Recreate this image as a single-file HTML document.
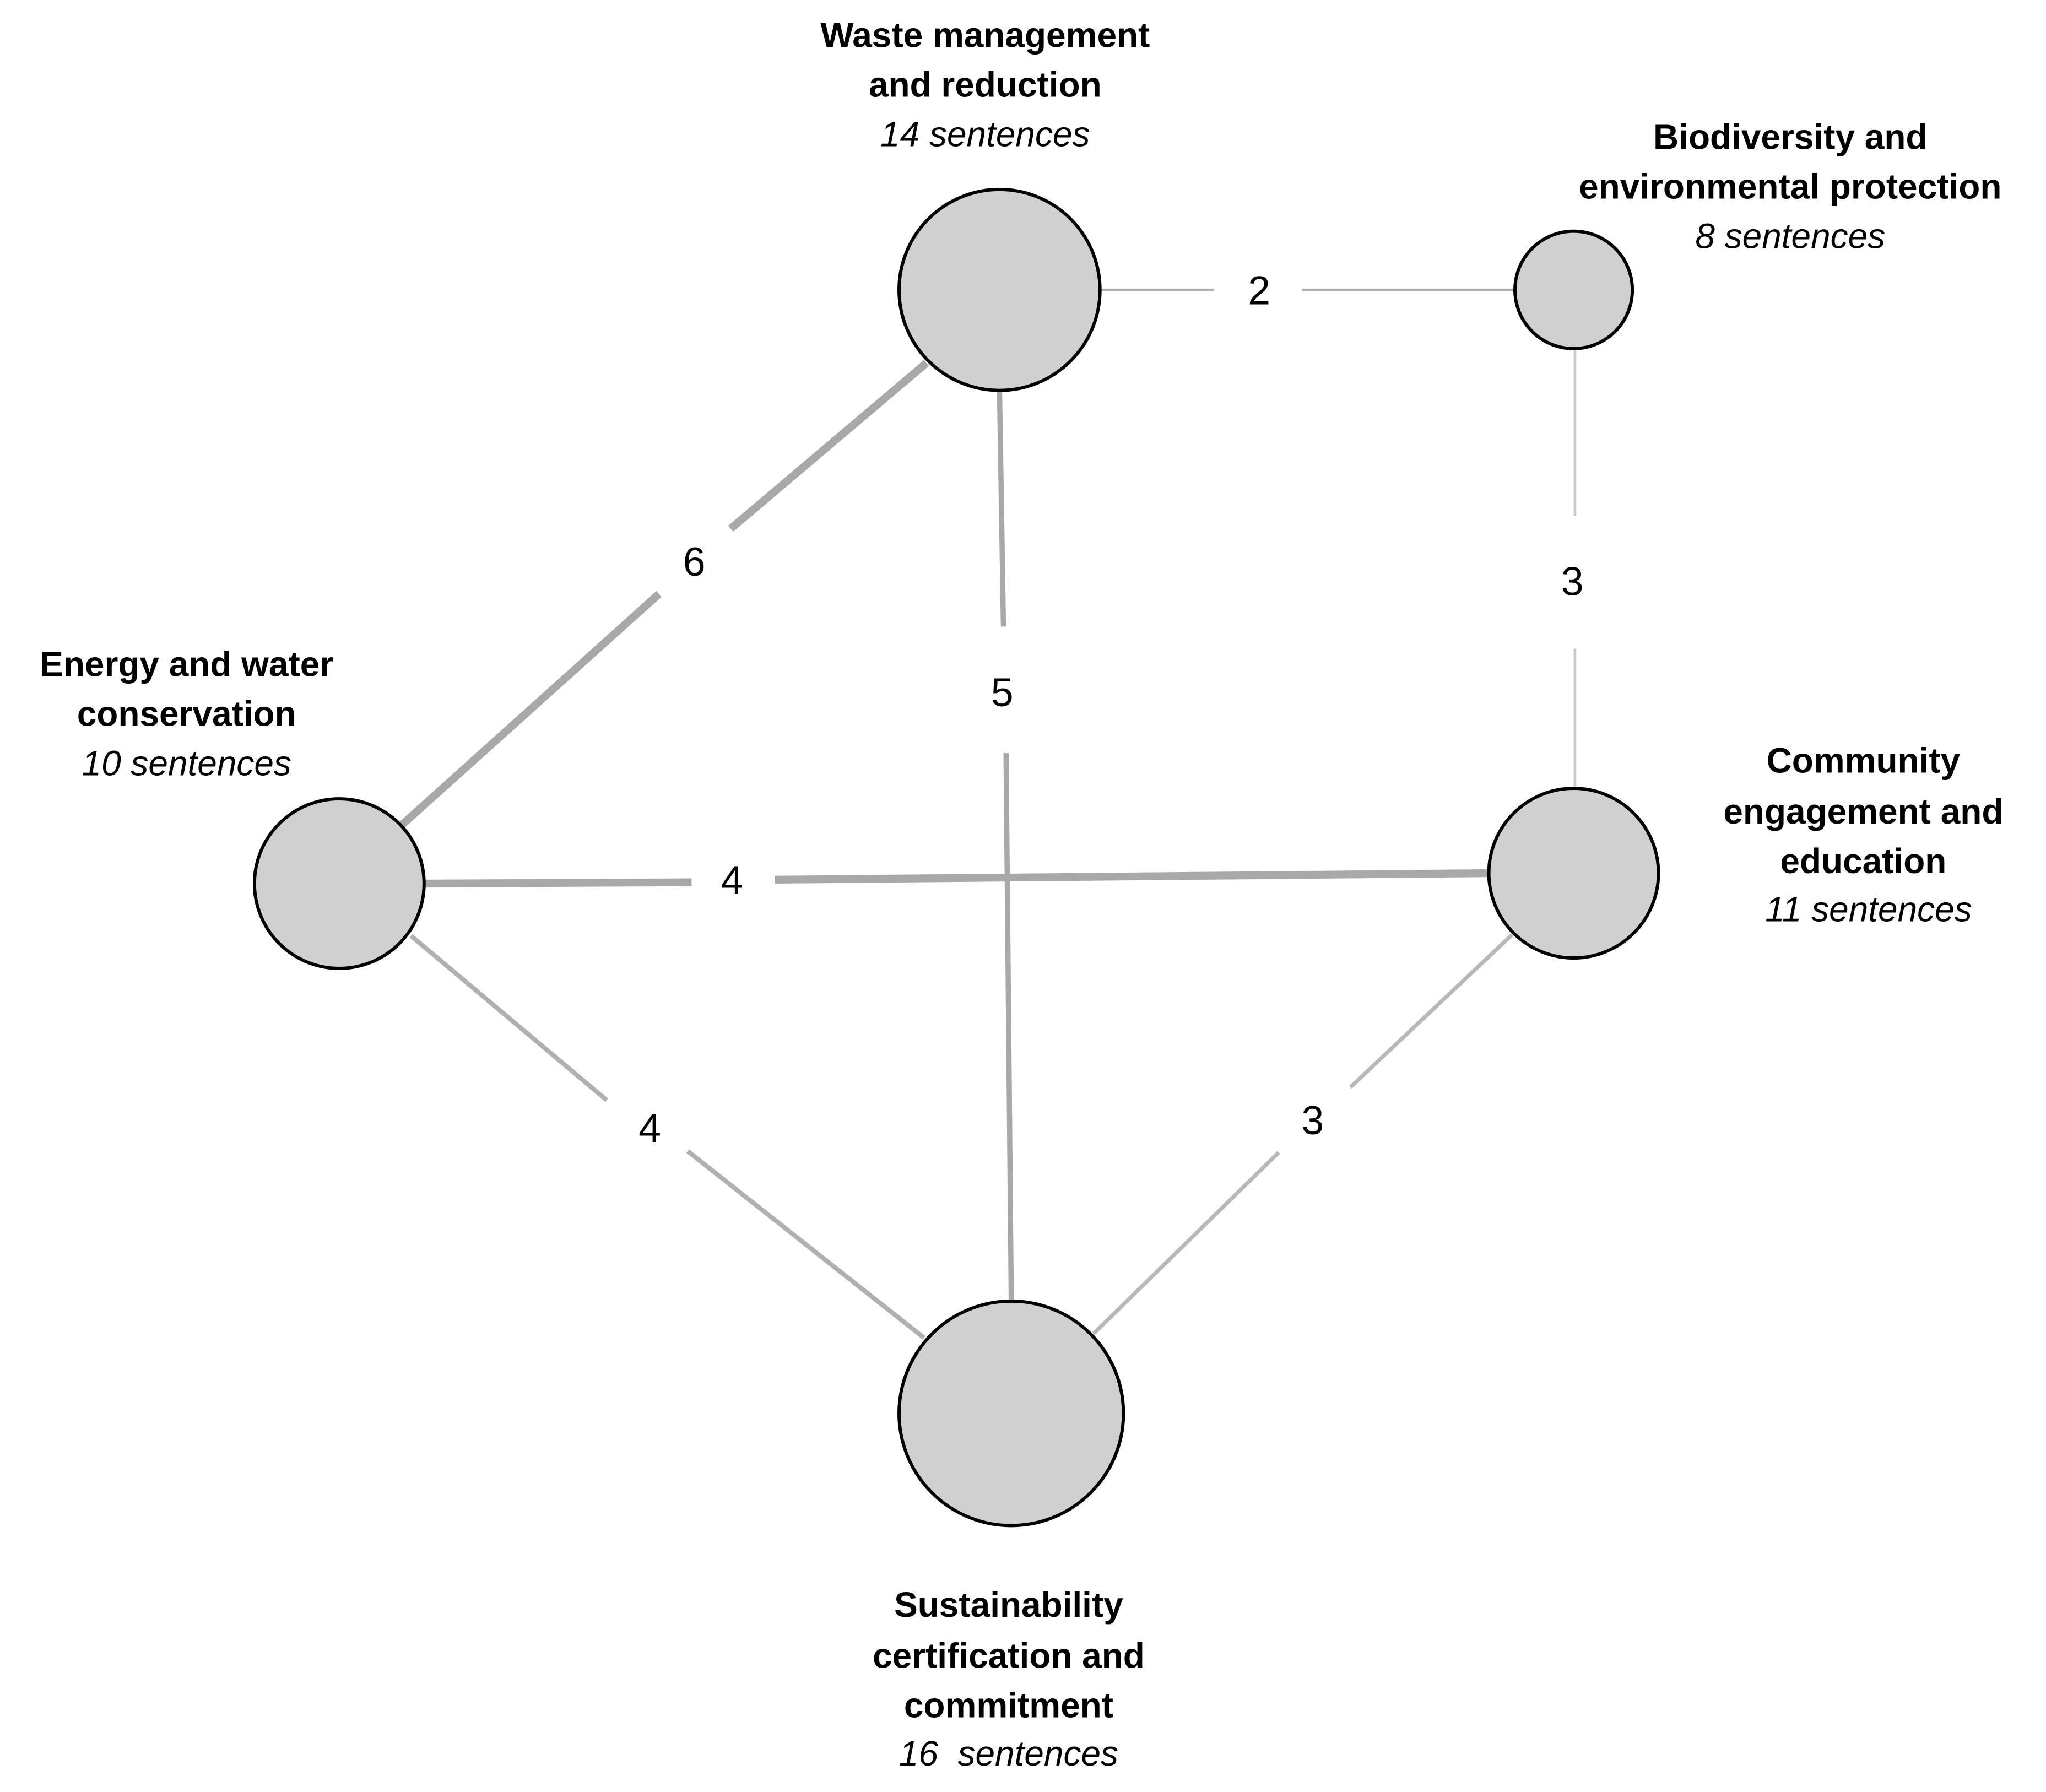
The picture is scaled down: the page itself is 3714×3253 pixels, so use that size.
<!DOCTYPE html>
<html><head><meta charset="utf-8"><style>
html,body{margin:0;padding:0;background:#fff;}
svg{display:block;}
text{font-family:"Liberation Sans",Arial,sans-serif;fill:#000;}
.b{font-weight:bold;font-size:27px;}
.i{font-style:italic;font-size:27px;}
.e{font-size:31px;}
</style></head><body>
<svg width="3714" height="3253" viewBox="0 0 1568 1373" xmlns="http://www.w3.org/2000/svg">
<rect width="1568" height="1373" fill="#fff"/>
<g stroke-linecap="butt" fill="none">
<line x1="843" y1="222" x2="930" y2="222" stroke="#b0b0b0" stroke-width="2"/>
<line x1="998" y1="222" x2="1161" y2="222" stroke="#b0b0b0" stroke-width="2"/>
<line x1="1207" y1="267" x2="1207" y2="395" stroke="#cccccc" stroke-width="2"/>
<line x1="1207" y1="497" x2="1207" y2="604" stroke="#cccccc" stroke-width="2"/>
<line x1="710" y1="278" x2="560" y2="405" stroke="#a8a8a8" stroke-width="6"/>
<line x1="505" y1="455" x2="308" y2="632" stroke="#a8a8a8" stroke-width="6"/>
<line x1="766" y1="299" x2="769" y2="480" stroke="#a8a8a8" stroke-width="4"/>
<line x1="771" y1="577" x2="775" y2="997" stroke="#a8a8a8" stroke-width="4"/>
<line x1="325" y1="677" x2="530" y2="676" stroke="#a8a8a8" stroke-width="6"/>
<line x1="594" y1="674" x2="1141" y2="669" stroke="#a8a8a8" stroke-width="6"/>
<line x1="315" y1="717" x2="465" y2="843" stroke="#b0b0b0" stroke-width="3.5"/>
<line x1="527" y1="882" x2="708" y2="1025" stroke="#b0b0b0" stroke-width="3.5"/>
<line x1="1159" y1="716" x2="1035" y2="833" stroke="#b8b8b8" stroke-width="3"/>
<line x1="980" y1="883" x2="838" y2="1022" stroke="#b8b8b8" stroke-width="3"/>
</g>
<g fill="#d0d0d0" stroke="#000" stroke-width="2.5">
<circle cx="766" cy="222" r="77"/>
<circle cx="1206" cy="222" r="45"/>
<circle cx="260" cy="677" r="65"/>
<circle cx="1206" cy="669" r="65"/>
<circle cx="775" cy="1083" r="86"/>
</g>
<g text-anchor="middle">
<text class="e" x="965" y="233">2</text>
<text class="e" x="1205" y="456">3</text>
<text class="e" x="532" y="441">6</text>
<text class="e" x="768" y="541">5</text>
<text class="e" x="561" y="685">4</text>
<text class="e" x="498" y="875">4</text>
<text class="e" x="1006" y="869">3</text>

<text class="b" x="755" y="36">Waste management</text>
<text class="b" x="755" y="74">and reduction</text>
<text class="i" x="755" y="112">14 sentences</text>

<text class="b" x="1372" y="114">Biodiversity and</text>
<text class="b" x="1372" y="152">environmental protection</text>
<text class="i" x="1372" y="190">8 sentences</text>

<text class="b" x="143" y="518">Energy and water</text>
<text class="b" x="143" y="556">conservation</text>
<text class="i" x="143" y="594">10 sentences</text>

<text class="b" x="1428" y="592">Community</text>
<text class="b" x="1428" y="631">engagement and</text>
<text class="b" x="1428" y="669">education</text>
<text class="i" x="1432" y="706">11 sentences</text>

<text class="b" x="773" y="1239">Sustainability</text>
<text class="b" x="773" y="1278">certification and</text>
<text class="b" x="773" y="1316">commitment</text>
<text class="i" x="773" y="1353" xml:space="preserve">16  sentences</text>
</g>
</svg>
</body></html>
